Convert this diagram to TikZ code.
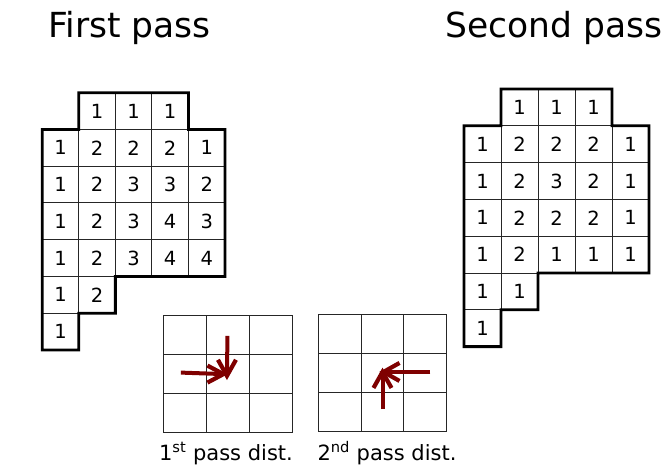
\documentclass[tikz,border=0pt]{standalone}
\usepackage{fontspec}
\setmainfont{DejaVu Sans}
\definecolor{arrowred}{HTML}{7F0000}
\tikzset{
  x=1pt, y=-1pt,
  cellbase/.style={draw=black!85, line width=1pt, inner sep=0pt, outer sep=0pt,
    font=\fontsize{19.5}{20}\selectfont},
  cellL/.style={cellbase, minimum width=36.54pt, minimum height=36.75pt},
  cellR/.style={cellbase, minimum width=37pt, minimum height=36.8pt},
  smallcell/.style={draw=black!85, line width=1pt, inner sep=0pt, outer sep=0pt},
  outline/.style={draw=black, line width=2.8pt, line join=miter},
  title/.style={anchor=base west, inner sep=0pt, font=\fontsize{34.5}{35}\selectfont},
  caption/.style={anchor=base, inner sep=0pt, font=\fontsize{21}{22}\selectfont},
  shaft/.style={draw=arrowred, line width=4pt, shorten >=2pt},
  barbs/.style={draw=arrowred, line width=4.2pt, line join=miter, line cap=butt},
}
\begin{document}
\begin{tikzpicture}
\useasboundingbox (0,0) rectangle (671,470);

% titles
\node[title] (t1) at (48,38) {First pass};
\node[title] (t2) at (445,38) {Second pass};

% left grid (first pass)
\foreach \r/\c/\v in {0/1/1,0/2/1,0/3/1,
  1/0/1,1/1/2,1/2/2,1/3/2,1/4/1,
  2/0/1,2/1/2,2/2/3,2/3/3,2/4/2,
  3/0/1,3/1/2,3/2/3,3/3/4,3/4/3,
  4/0/1,4/1/2,4/2/3,4/3/4,4/4/4,
  5/0/1,5/1/2,
  6/0/1}
  \node[cellL] (L-\r-\c) at ({42.3+(\c+0.5)*36.54},{92.7+(\r+0.5)*36.75}) {\v};
\path[outline] (L-0-1.north west) -- (L-0-3.north east) -- (L-0-3.south east)
  -- (L-1-4.north east)
  -- (L-4-4.south east) -- (L-4-2.south west) -- (L-5-1.south east)
  -- (L-6-0.north east) -- (L-6-0.south east) -- (L-6-0.south west)
  -- (L-1-0.north west) -- (L-0-1.south west) -- cycle;

% right grid (second pass)
\foreach \r/\c/\v in {0/1/1,0/2/1,0/3/1,
  1/0/1,1/1/2,1/2/2,1/3/2,1/4/1,
  2/0/1,2/1/2,2/2/3,2/3/2,2/4/1,
  3/0/1,3/1/2,3/2/2,3/3/2,3/4/1,
  4/0/1,4/1/2,4/2/1,4/3/1,4/4/1,
  5/0/1,5/1/1,
  6/0/1}
  \node[cellR] (R-\r-\c) at ({464+(\c+0.5)*37},{89+(\r+0.5)*36.8}) {\v};
\path[outline] (R-0-1.north west) -- (R-0-3.north east) -- (R-0-3.south east)
  -- (R-1-4.north east)
  -- (R-4-4.south east) -- (R-4-2.south west) -- (R-5-1.south east)
  -- (R-6-0.north east) -- (R-6-0.south east) -- (R-6-0.south west)
  -- (R-1-0.north west) -- (R-0-1.south west) -- cycle;

% small masks
\foreach \r in {0,1,2}
  \foreach \c in {0,1,2} {
    \node[smallcell, minimum width=43.1pt, minimum height=39.2pt]
      (A-\r-\c) at ({163.3+(\c+0.5)*43.1},{315+(\r+0.5)*39.2}) {};
    \node[smallcell, minimum width=42.8pt, minimum height=39.1pt]
      (B-\r-\c) at ({318.3+(\c+0.5)*42.8},{314.3+(\r+0.5)*39.1}) {};
  }

% arrow tips
\coordinate (tipA1) at ([xshift=-1pt,yshift=-2pt]A-1-1.center);
\coordinate (tipA2) at ([xshift=-4.5pt,yshift=-0.3pt]A-1-1.center);
\coordinate (tipB1) at ([xshift=1pt,yshift=1pt]B-1-1.center);
\coordinate (tipB2) at ([yshift=1pt]B-1-1.center);

% first pass arrows
\draw[shaft] ([xshift=-0.5pt,yshift=-1.3pt]A-0-1.center) -- (tipA1);
\draw[barbs] (tipA1) ++(-9,-16) -- (tipA1) -- ++(9,-16);
\draw[shaft] ([xshift=-4pt,yshift=1.2pt]A-1-0.center) -- (tipA2);
\draw[barbs] (tipA2) ++(-16,-8.5) -- (tipA2) -- ++(-16,8.5);
% second pass arrows
\draw[shaft] ([xshift=5pt,yshift=1pt]B-1-2.center) -- (tipB1);
\draw[barbs] (tipB1) ++(16,-9) -- (tipB1) -- ++(16,9);
\draw[shaft] ([yshift=3pt]B-2-1.center) -- (tipB2);
\draw[barbs] (tipB2) ++(-9,16) -- (tipB2) -- ++(9,16);

% captions
\node[caption] (c1) at (226,460) {1\textsuperscript{st} pass dist.};
\node[caption] (c2) at (387,460) {2\textsuperscript{nd} pass dist.};
\end{tikzpicture}
\end{document}
